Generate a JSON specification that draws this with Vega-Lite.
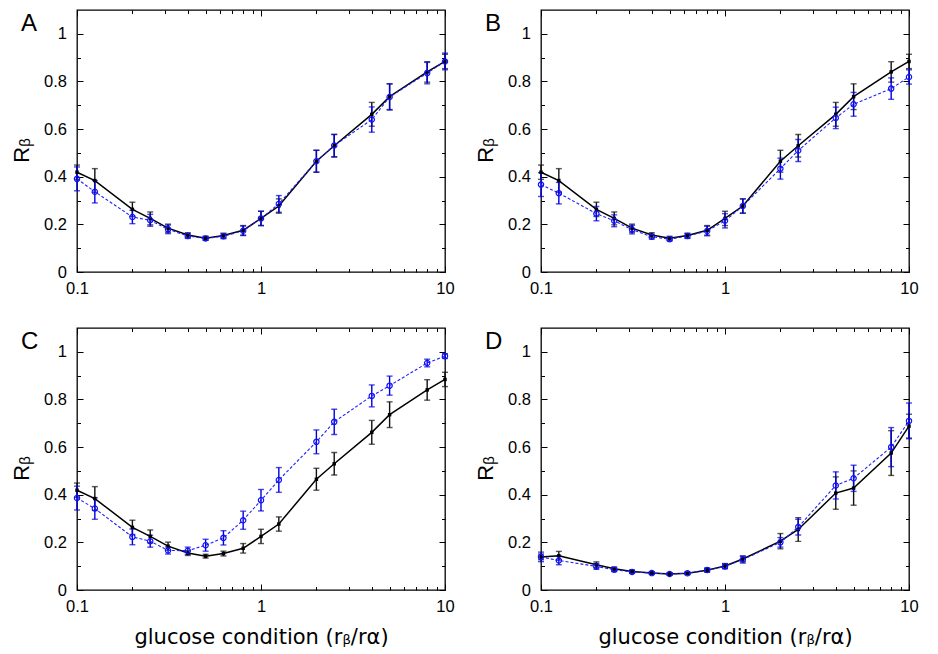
{
  "$schema": "https://vega.github.io/schema/vega-lite/v6.json",
  "padding": {"left": 9, "top": 8, "right": 5, "bottom": 5},
  "datasets": {
    "pts": [
      {"panel":"A","s":"ref","x":0.1,"y":0.419,"e":0.03},{"panel":"A","s":"ref","x":0.125,"y":0.384,"e":0.05},{"panel":"A","s":"ref","x":0.2,"y":0.263,"e":0.03},{"panel":"A","s":"ref","x":0.25,"y":0.225,"e":0.027},{"panel":"A","s":"ref","x":0.3125,"y":0.184,"e":0.017},{"panel":"A","s":"ref","x":0.4,"y":0.155,"e":0.01},{"panel":"A","s":"ref","x":0.5,"y":0.142,"e":0.008},{"panel":"A","s":"ref","x":0.625,"y":0.153,"e":0.01},{"panel":"A","s":"ref","x":0.8,"y":0.175,"e":0.02},{"panel":"A","s":"ref","x":1,"y":0.225,"e":0.03},{"panel":"A","s":"ref","x":1.25,"y":0.277,"e":0.03},{"panel":"A","s":"ref","x":2,"y":0.465,"e":0.046},{"panel":"A","s":"ref","x":2.5,"y":0.53,"e":0.047},{"panel":"A","s":"ref","x":4,"y":0.662,"e":0.05},{"panel":"A","s":"ref","x":5,"y":0.736,"e":0.054},{"panel":"A","s":"ref","x":8,"y":0.84,"e":0.043},{"panel":"A","s":"ref","x":10,"y":0.884,"e":0.03},
      {"panel":"A","s":"alt","x":0.1,"y":0.391,"e":0.05},{"panel":"A","s":"alt","x":0.125,"y":0.337,"e":0.047},{"panel":"A","s":"alt","x":0.2,"y":0.231,"e":0.028},{"panel":"A","s":"alt","x":0.25,"y":0.217,"e":0.025},{"panel":"A","s":"alt","x":0.3125,"y":0.179,"e":0.018},{"panel":"A","s":"alt","x":0.4,"y":0.151,"e":0.01},{"panel":"A","s":"alt","x":0.5,"y":0.141,"e":0.008},{"panel":"A","s":"alt","x":0.625,"y":0.15,"e":0.01},{"panel":"A","s":"alt","x":0.8,"y":0.173,"e":0.02},{"panel":"A","s":"alt","x":1,"y":0.225,"e":0.03},{"panel":"A","s":"alt","x":1.25,"y":0.286,"e":0.035},{"panel":"A","s":"alt","x":2,"y":0.465,"e":0.046},{"panel":"A","s":"alt","x":2.5,"y":0.531,"e":0.047},{"panel":"A","s":"alt","x":4,"y":0.64,"e":0.053},{"panel":"A","s":"alt","x":5,"y":0.735,"e":0.055},{"panel":"A","s":"alt","x":8,"y":0.835,"e":0.045},{"panel":"A","s":"alt","x":10,"y":0.884,"e":0.035},
      {"panel":"B","s":"ref","x":0.1,"y":0.419,"e":0.03},{"panel":"B","s":"ref","x":0.125,"y":0.384,"e":0.05},{"panel":"B","s":"ref","x":0.2,"y":0.263,"e":0.03},{"panel":"B","s":"ref","x":0.25,"y":0.225,"e":0.027},{"panel":"B","s":"ref","x":0.3125,"y":0.184,"e":0.017},{"panel":"B","s":"ref","x":0.4,"y":0.155,"e":0.01},{"panel":"B","s":"ref","x":0.5,"y":0.142,"e":0.008},{"panel":"B","s":"ref","x":0.625,"y":0.153,"e":0.01},{"panel":"B","s":"ref","x":0.8,"y":0.175,"e":0.02},{"panel":"B","s":"ref","x":1,"y":0.225,"e":0.03},{"panel":"B","s":"ref","x":1.25,"y":0.277,"e":0.03},{"panel":"B","s":"ref","x":2,"y":0.465,"e":0.046},{"panel":"B","s":"ref","x":2.5,"y":0.53,"e":0.047},{"panel":"B","s":"ref","x":4,"y":0.662,"e":0.05},{"panel":"B","s":"ref","x":5,"y":0.736,"e":0.054},{"panel":"B","s":"ref","x":8,"y":0.84,"e":0.043},{"panel":"B","s":"ref","x":10,"y":0.884,"e":0.03},
      {"panel":"B","s":"alt","x":0.1,"y":0.367,"e":0.05},{"panel":"B","s":"alt","x":0.125,"y":0.331,"e":0.045},{"panel":"B","s":"alt","x":0.2,"y":0.245,"e":0.03},{"panel":"B","s":"alt","x":0.25,"y":0.215,"e":0.025},{"panel":"B","s":"alt","x":0.3125,"y":0.178,"e":0.018},{"panel":"B","s":"alt","x":0.4,"y":0.148,"e":0.01},{"panel":"B","s":"alt","x":0.5,"y":0.138,"e":0.008},{"panel":"B","s":"alt","x":0.625,"y":0.151,"e":0.01},{"panel":"B","s":"alt","x":0.8,"y":0.172,"e":0.02},{"panel":"B","s":"alt","x":1,"y":0.215,"e":0.03},{"panel":"B","s":"alt","x":1.25,"y":0.277,"e":0.03},{"panel":"B","s":"alt","x":2,"y":0.434,"e":0.044},{"panel":"B","s":"alt","x":2.5,"y":0.51,"e":0.046},{"panel":"B","s":"alt","x":4,"y":0.647,"e":0.045},{"panel":"B","s":"alt","x":5,"y":0.704,"e":0.05},{"panel":"B","s":"alt","x":8,"y":0.77,"e":0.045},{"panel":"B","s":"alt","x":10,"y":0.819,"e":0.03},
      {"panel":"C","s":"ref","x":0.1,"y":0.419,"e":0.03},{"panel":"C","s":"ref","x":0.125,"y":0.384,"e":0.05},{"panel":"C","s":"ref","x":0.2,"y":0.263,"e":0.03},{"panel":"C","s":"ref","x":0.25,"y":0.225,"e":0.027},{"panel":"C","s":"ref","x":0.3125,"y":0.184,"e":0.017},{"panel":"C","s":"ref","x":0.4,"y":0.155,"e":0.01},{"panel":"C","s":"ref","x":0.5,"y":0.142,"e":0.008},{"panel":"C","s":"ref","x":0.625,"y":0.153,"e":0.01},{"panel":"C","s":"ref","x":0.8,"y":0.175,"e":0.02},{"panel":"C","s":"ref","x":1,"y":0.225,"e":0.03},{"panel":"C","s":"ref","x":1.25,"y":0.277,"e":0.03},{"panel":"C","s":"ref","x":2,"y":0.465,"e":0.046},{"panel":"C","s":"ref","x":2.5,"y":0.53,"e":0.047},{"panel":"C","s":"ref","x":4,"y":0.662,"e":0.05},{"panel":"C","s":"ref","x":5,"y":0.736,"e":0.054},{"panel":"C","s":"ref","x":8,"y":0.84,"e":0.043},{"panel":"C","s":"ref","x":10,"y":0.884,"e":0.03},
      {"panel":"C","s":"alt","x":0.1,"y":0.386,"e":0.05},{"panel":"C","s":"alt","x":0.125,"y":0.342,"e":0.045},{"panel":"C","s":"alt","x":0.2,"y":0.223,"e":0.033},{"panel":"C","s":"alt","x":0.25,"y":0.205,"e":0.025},{"panel":"C","s":"alt","x":0.3125,"y":0.166,"e":0.015},{"panel":"C","s":"alt","x":0.4,"y":0.165,"e":0.015},{"panel":"C","s":"alt","x":0.5,"y":0.188,"e":0.025},{"panel":"C","s":"alt","x":0.625,"y":0.219,"e":0.03},{"panel":"C","s":"alt","x":0.8,"y":0.293,"e":0.038},{"panel":"C","s":"alt","x":1,"y":0.377,"e":0.045},{"panel":"C","s":"alt","x":1.25,"y":0.462,"e":0.052},{"panel":"C","s":"alt","x":2,"y":0.622,"e":0.05},{"panel":"C","s":"alt","x":2.5,"y":0.706,"e":0.053},{"panel":"C","s":"alt","x":4,"y":0.815,"e":0.046},{"panel":"C","s":"alt","x":5,"y":0.858,"e":0.04},{"panel":"C","s":"alt","x":8,"y":0.953,"e":0.016},{"panel":"C","s":"alt","x":10,"y":0.982,"e":0.01},
      {"panel":"D","s":"ref","x":0.1,"y":0.139,"e":0.012},{"panel":"D","s":"ref","x":0.125,"y":0.144,"e":0.018},{"panel":"D","s":"ref","x":0.2,"y":0.106,"e":0.012},{"panel":"D","s":"ref","x":0.25,"y":0.089,"e":0.008},{"panel":"D","s":"ref","x":0.3125,"y":0.078,"e":0.006},{"panel":"D","s":"ref","x":0.4,"y":0.071,"e":0.005},{"panel":"D","s":"ref","x":0.5,"y":0.067,"e":0.005},{"panel":"D","s":"ref","x":0.625,"y":0.07,"e":0.005},{"panel":"D","s":"ref","x":0.8,"y":0.083,"e":0.008},{"panel":"D","s":"ref","x":1,"y":0.101,"e":0.01},{"panel":"D","s":"ref","x":1.25,"y":0.13,"e":0.012},{"panel":"D","s":"ref","x":2,"y":0.205,"e":0.032},{"panel":"D","s":"ref","x":2.5,"y":0.254,"e":0.05},{"panel":"D","s":"ref","x":4,"y":0.407,"e":0.068},{"panel":"D","s":"ref","x":5,"y":0.428,"e":0.072},{"panel":"D","s":"ref","x":8,"y":0.575,"e":0.094},{"panel":"D","s":"ref","x":10,"y":0.688,"e":0.05},
      {"panel":"D","s":"alt","x":0.1,"y":0.139,"e":0.02},{"panel":"D","s":"alt","x":0.125,"y":0.124,"e":0.018},{"panel":"D","s":"alt","x":0.2,"y":0.099,"e":0.012},{"panel":"D","s":"alt","x":0.25,"y":0.085,"e":0.008},{"panel":"D","s":"alt","x":0.3125,"y":0.076,"e":0.006},{"panel":"D","s":"alt","x":0.4,"y":0.071,"e":0.005},{"panel":"D","s":"alt","x":0.5,"y":0.067,"e":0.005},{"panel":"D","s":"alt","x":0.625,"y":0.07,"e":0.005},{"panel":"D","s":"alt","x":0.8,"y":0.084,"e":0.008},{"panel":"D","s":"alt","x":1,"y":0.099,"e":0.01},{"panel":"D","s":"alt","x":1.25,"y":0.128,"e":0.015},{"panel":"D","s":"alt","x":2,"y":0.2,"e":0.02},{"panel":"D","s":"alt","x":2.5,"y":0.264,"e":0.033},{"panel":"D","s":"alt","x":4,"y":0.439,"e":0.057},{"panel":"D","s":"alt","x":5,"y":0.469,"e":0.055},{"panel":"D","s":"alt","x":8,"y":0.6,"e":0.082},{"panel":"D","s":"alt","x":10,"y":0.71,"e":0.075}
    ]
  },
  "data": {"name": "pts"},
  "columns": 2,
  "bounds": "flush",
  "spacing": {"row": 56, "column": 96},
  "concat": [
    {
      "width": 368, "height": 262,
      "title": {"text": "A"},
      "transform": [{"filter": "datum.panel === 'A'"}],
      "layer": [
        {"transform": [{"filter": "datum.s === 'ref'"}],
         "mark": {"type": "errorbar", "ticks": {"size": 6}, "color": "#111111", "thickness": 1.4},
         "encoding": {
           "x": {"field": "x", "type": "quantitative", "scale": {"type": "log", "domain": [0.1, 10]}, "axis": {"orient": "bottom", "values": [0.1, 1, 10], "format": "~g", "tickSize": -6, "title": null}},
           "y": {"field": "y", "type": "quantitative", "scale": {"domain": [0, 1.1]}, "axis": {"orient": "left", "values": [0, 0.2, 0.4, 0.6, 0.8, 1], "format": "~g", "tickSize": -6, "title": "Rᵦ", "titleFont": "Liberation Sans", "titleFontSize": 22, "titlePadding": 10, "titleY": 140}},
           "yError": {"field": "e"}}},
        {"transform": [{"filter": "datum.s === 'alt'"}],
         "mark": {"type": "errorbar", "ticks": {"size": 6}, "color": "#0000dd", "thickness": 1.4},
         "encoding": {
           "x": {"field": "x", "type": "quantitative", "scale": {"type": "log", "domain": [0.1, 10]}, "axis": {"orient": "bottom", "values": [0.2, 0.3, 0.4, 0.5, 0.6, 0.7, 0.8, 0.9, 2, 3, 4, 5, 6, 7, 8, 9], "labels": false, "tickSize": -3.5, "title": null}},
           "y": {"field": "y", "type": "quantitative", "scale": {"domain": [0, 1.1]}, "axis": {"orient": "left", "values": [0.1, 0.3, 0.5, 0.7, 0.9], "labels": false, "tickSize": -3.5, "title": null}},
           "yError": {"field": "e"}}},
        {"transform": [{"filter": "datum.s === 'ref'"}],
         "mark": {"type": "line", "color": "black", "strokeWidth": 1.5},
         "encoding": {
           "x": {"field": "x", "type": "quantitative", "scale": {"type": "log", "domain": [0.1, 10]}, "axis": {"orient": "top", "values": [0.1, 1, 10], "labels": false, "tickSize": -6, "title": null}},
           "y": {"field": "y", "type": "quantitative", "scale": {"domain": [0, 1.1]}, "axis": {"orient": "right", "values": [0, 0.2, 0.4, 0.6, 0.8, 1], "labels": false, "tickSize": -6, "title": null}}}},
        {"transform": [{"filter": "datum.s === 'alt'"}],
         "mark": {"type": "line", "color": "#2020ff", "strokeWidth": 1.1, "strokeDash": [3, 2]},
         "encoding": {
           "x": {"field": "x", "type": "quantitative", "scale": {"type": "log", "domain": [0.1, 10]}, "axis": {"orient": "top", "values": [0.2, 0.3, 0.4, 0.5, 0.6, 0.7, 0.8, 0.9, 2, 3, 4, 5, 6, 7, 8, 9], "labels": false, "tickSize": -3.5, "title": null}},
           "y": {"field": "y", "type": "quantitative", "scale": {"domain": [0, 1.1]}, "axis": {"orient": "right", "values": [0.1, 0.3, 0.5, 0.7, 0.9], "labels": false, "tickSize": -3.5, "title": null}}}},
        {"transform": [{"filter": "datum.s === 'ref'"}],
         "mark": {"type": "square", "filled": true, "color": "black", "size": 12, "opacity": 1},
         "encoding": {
           "x": {"field": "x", "type": "quantitative", "scale": {"type": "log", "domain": [0.1, 10]}, "axis": null},
           "y": {"field": "y", "type": "quantitative", "scale": {"domain": [0, 1.1]}, "axis": null}}},
        {"transform": [{"filter": "datum.s === 'alt'"}],
         "mark": {"type": "point", "shape": "circle", "filled": false, "color": "#1010ff", "size": 28, "strokeWidth": 1.2, "opacity": 1},
         "encoding": {
           "x": {"field": "x", "type": "quantitative", "scale": {"type": "log", "domain": [0.1, 10]}, "axis": null},
           "y": {"field": "y", "type": "quantitative", "scale": {"domain": [0, 1.1]}, "axis": null}}}
      ],
      "resolve": {"axis": {"x": "independent", "y": "independent"}}
    },
    {
      "width": 368, "height": 262,
      "title": {"text": "B"},
      "transform": [{"filter": "datum.panel === 'B'"}],
      "layer": [
        {"transform": [{"filter": "datum.s === 'ref'"}],
         "mark": {"type": "errorbar", "ticks": {"size": 6}, "color": "#111111", "thickness": 1.4},
         "encoding": {
           "x": {"field": "x", "type": "quantitative", "scale": {"type": "log", "domain": [0.1, 10]}, "axis": {"orient": "bottom", "values": [0.1, 1, 10], "format": "~g", "tickSize": -6, "title": null}},
           "y": {"field": "y", "type": "quantitative", "scale": {"domain": [0, 1.1]}, "axis": {"orient": "left", "values": [0, 0.2, 0.4, 0.6, 0.8, 1], "format": "~g", "tickSize": -6, "title": "Rᵦ", "titleFont": "Liberation Sans", "titleFontSize": 22, "titlePadding": 10, "titleY": 140}},
           "yError": {"field": "e"}}},
        {"transform": [{"filter": "datum.s === 'alt'"}],
         "mark": {"type": "errorbar", "ticks": {"size": 6}, "color": "#0000dd", "thickness": 1.4},
         "encoding": {
           "x": {"field": "x", "type": "quantitative", "scale": {"type": "log", "domain": [0.1, 10]}, "axis": {"orient": "bottom", "values": [0.2, 0.3, 0.4, 0.5, 0.6, 0.7, 0.8, 0.9, 2, 3, 4, 5, 6, 7, 8, 9], "labels": false, "tickSize": -3.5, "title": null}},
           "y": {"field": "y", "type": "quantitative", "scale": {"domain": [0, 1.1]}, "axis": {"orient": "left", "values": [0.1, 0.3, 0.5, 0.7, 0.9], "labels": false, "tickSize": -3.5, "title": null}},
           "yError": {"field": "e"}}},
        {"transform": [{"filter": "datum.s === 'ref'"}],
         "mark": {"type": "line", "color": "black", "strokeWidth": 1.5},
         "encoding": {
           "x": {"field": "x", "type": "quantitative", "scale": {"type": "log", "domain": [0.1, 10]}, "axis": {"orient": "top", "values": [0.1, 1, 10], "labels": false, "tickSize": -6, "title": null}},
           "y": {"field": "y", "type": "quantitative", "scale": {"domain": [0, 1.1]}, "axis": {"orient": "right", "values": [0, 0.2, 0.4, 0.6, 0.8, 1], "labels": false, "tickSize": -6, "title": null}}}},
        {"transform": [{"filter": "datum.s === 'alt'"}],
         "mark": {"type": "line", "color": "#2020ff", "strokeWidth": 1.1, "strokeDash": [3, 2]},
         "encoding": {
           "x": {"field": "x", "type": "quantitative", "scale": {"type": "log", "domain": [0.1, 10]}, "axis": {"orient": "top", "values": [0.2, 0.3, 0.4, 0.5, 0.6, 0.7, 0.8, 0.9, 2, 3, 4, 5, 6, 7, 8, 9], "labels": false, "tickSize": -3.5, "title": null}},
           "y": {"field": "y", "type": "quantitative", "scale": {"domain": [0, 1.1]}, "axis": {"orient": "right", "values": [0.1, 0.3, 0.5, 0.7, 0.9], "labels": false, "tickSize": -3.5, "title": null}}}},
        {"transform": [{"filter": "datum.s === 'ref'"}],
         "mark": {"type": "square", "filled": true, "color": "black", "size": 12, "opacity": 1},
         "encoding": {
           "x": {"field": "x", "type": "quantitative", "scale": {"type": "log", "domain": [0.1, 10]}, "axis": null},
           "y": {"field": "y", "type": "quantitative", "scale": {"domain": [0, 1.1]}, "axis": null}}},
        {"transform": [{"filter": "datum.s === 'alt'"}],
         "mark": {"type": "point", "shape": "circle", "filled": false, "color": "#1010ff", "size": 28, "strokeWidth": 1.2, "opacity": 1},
         "encoding": {
           "x": {"field": "x", "type": "quantitative", "scale": {"type": "log", "domain": [0.1, 10]}, "axis": null},
           "y": {"field": "y", "type": "quantitative", "scale": {"domain": [0, 1.1]}, "axis": null}}}
      ],
      "resolve": {"axis": {"x": "independent", "y": "independent"}}
    },
    {
      "width": 368, "height": 262,
      "title": {"text": "C"},
      "transform": [{"filter": "datum.panel === 'C'"}],
      "layer": [
        {"transform": [{"filter": "datum.s === 'ref'"}],
         "mark": {"type": "errorbar", "ticks": {"size": 6}, "color": "#111111", "thickness": 1.4},
         "encoding": {
           "x": {"field": "x", "type": "quantitative", "scale": {"type": "log", "domain": [0.1, 10]}, "axis": {"orient": "bottom", "values": [0.1, 1, 10], "format": "~g", "tickSize": -6, "title": "glucose condition (rᵦ/rα)", "titleFont": "DejaVu Sans", "titleFontSize": 21, "titlePadding": 12}},
           "y": {"field": "y", "type": "quantitative", "scale": {"domain": [0, 1.1]}, "axis": {"orient": "left", "values": [0, 0.2, 0.4, 0.6, 0.8, 1], "format": "~g", "tickSize": -6, "title": "Rᵦ", "titleFont": "Liberation Sans", "titleFontSize": 22, "titlePadding": 10, "titleY": 140}},
           "yError": {"field": "e"}}},
        {"transform": [{"filter": "datum.s === 'alt'"}],
         "mark": {"type": "errorbar", "ticks": {"size": 6}, "color": "#0000dd", "thickness": 1.4},
         "encoding": {
           "x": {"field": "x", "type": "quantitative", "scale": {"type": "log", "domain": [0.1, 10]}, "axis": {"orient": "bottom", "values": [0.2, 0.3, 0.4, 0.5, 0.6, 0.7, 0.8, 0.9, 2, 3, 4, 5, 6, 7, 8, 9], "labels": false, "tickSize": -3.5, "title": null}},
           "y": {"field": "y", "type": "quantitative", "scale": {"domain": [0, 1.1]}, "axis": {"orient": "left", "values": [0.1, 0.3, 0.5, 0.7, 0.9], "labels": false, "tickSize": -3.5, "title": null}},
           "yError": {"field": "e"}}},
        {"transform": [{"filter": "datum.s === 'ref'"}],
         "mark": {"type": "line", "color": "black", "strokeWidth": 1.5},
         "encoding": {
           "x": {"field": "x", "type": "quantitative", "scale": {"type": "log", "domain": [0.1, 10]}, "axis": {"orient": "top", "values": [0.1, 1, 10], "labels": false, "tickSize": -6, "title": null}},
           "y": {"field": "y", "type": "quantitative", "scale": {"domain": [0, 1.1]}, "axis": {"orient": "right", "values": [0, 0.2, 0.4, 0.6, 0.8, 1], "labels": false, "tickSize": -6, "title": null}}}},
        {"transform": [{"filter": "datum.s === 'alt'"}],
         "mark": {"type": "line", "color": "#2020ff", "strokeWidth": 1.1, "strokeDash": [3, 2]},
         "encoding": {
           "x": {"field": "x", "type": "quantitative", "scale": {"type": "log", "domain": [0.1, 10]}, "axis": {"orient": "top", "values": [0.2, 0.3, 0.4, 0.5, 0.6, 0.7, 0.8, 0.9, 2, 3, 4, 5, 6, 7, 8, 9], "labels": false, "tickSize": -3.5, "title": null}},
           "y": {"field": "y", "type": "quantitative", "scale": {"domain": [0, 1.1]}, "axis": {"orient": "right", "values": [0.1, 0.3, 0.5, 0.7, 0.9], "labels": false, "tickSize": -3.5, "title": null}}}},
        {"transform": [{"filter": "datum.s === 'ref'"}],
         "mark": {"type": "square", "filled": true, "color": "black", "size": 12, "opacity": 1},
         "encoding": {
           "x": {"field": "x", "type": "quantitative", "scale": {"type": "log", "domain": [0.1, 10]}, "axis": null},
           "y": {"field": "y", "type": "quantitative", "scale": {"domain": [0, 1.1]}, "axis": null}}},
        {"transform": [{"filter": "datum.s === 'alt'"}],
         "mark": {"type": "point", "shape": "circle", "filled": false, "color": "#1010ff", "size": 28, "strokeWidth": 1.2, "opacity": 1},
         "encoding": {
           "x": {"field": "x", "type": "quantitative", "scale": {"type": "log", "domain": [0.1, 10]}, "axis": null},
           "y": {"field": "y", "type": "quantitative", "scale": {"domain": [0, 1.1]}, "axis": null}}}
      ],
      "resolve": {"axis": {"x": "independent", "y": "independent"}}
    },
    {
      "width": 368, "height": 262,
      "title": {"text": "D"},
      "transform": [{"filter": "datum.panel === 'D'"}],
      "layer": [
        {"transform": [{"filter": "datum.s === 'ref'"}],
         "mark": {"type": "errorbar", "ticks": {"size": 6}, "color": "#111111", "thickness": 1.4},
         "encoding": {
           "x": {"field": "x", "type": "quantitative", "scale": {"type": "log", "domain": [0.1, 10]}, "axis": {"orient": "bottom", "values": [0.1, 1, 10], "format": "~g", "tickSize": -6, "title": "glucose condition (rᵦ/rα)", "titleFont": "DejaVu Sans", "titleFontSize": 21, "titlePadding": 12}},
           "y": {"field": "y", "type": "quantitative", "scale": {"domain": [0, 1.1]}, "axis": {"orient": "left", "values": [0, 0.2, 0.4, 0.6, 0.8, 1], "format": "~g", "tickSize": -6, "title": "Rᵦ", "titleFont": "Liberation Sans", "titleFontSize": 22, "titlePadding": 10, "titleY": 140}},
           "yError": {"field": "e"}}},
        {"transform": [{"filter": "datum.s === 'alt'"}],
         "mark": {"type": "errorbar", "ticks": {"size": 6}, "color": "#0000dd", "thickness": 1.4},
         "encoding": {
           "x": {"field": "x", "type": "quantitative", "scale": {"type": "log", "domain": [0.1, 10]}, "axis": {"orient": "bottom", "values": [0.2, 0.3, 0.4, 0.5, 0.6, 0.7, 0.8, 0.9, 2, 3, 4, 5, 6, 7, 8, 9], "labels": false, "tickSize": -3.5, "title": null}},
           "y": {"field": "y", "type": "quantitative", "scale": {"domain": [0, 1.1]}, "axis": {"orient": "left", "values": [0.1, 0.3, 0.5, 0.7, 0.9], "labels": false, "tickSize": -3.5, "title": null}},
           "yError": {"field": "e"}}},
        {"transform": [{"filter": "datum.s === 'ref'"}],
         "mark": {"type": "line", "color": "black", "strokeWidth": 1.5},
         "encoding": {
           "x": {"field": "x", "type": "quantitative", "scale": {"type": "log", "domain": [0.1, 10]}, "axis": {"orient": "top", "values": [0.1, 1, 10], "labels": false, "tickSize": -6, "title": null}},
           "y": {"field": "y", "type": "quantitative", "scale": {"domain": [0, 1.1]}, "axis": {"orient": "right", "values": [0, 0.2, 0.4, 0.6, 0.8, 1], "labels": false, "tickSize": -6, "title": null}}}},
        {"transform": [{"filter": "datum.s === 'alt'"}],
         "mark": {"type": "line", "color": "#2020ff", "strokeWidth": 1.1, "strokeDash": [3, 2]},
         "encoding": {
           "x": {"field": "x", "type": "quantitative", "scale": {"type": "log", "domain": [0.1, 10]}, "axis": {"orient": "top", "values": [0.2, 0.3, 0.4, 0.5, 0.6, 0.7, 0.8, 0.9, 2, 3, 4, 5, 6, 7, 8, 9], "labels": false, "tickSize": -3.5, "title": null}},
           "y": {"field": "y", "type": "quantitative", "scale": {"domain": [0, 1.1]}, "axis": {"orient": "right", "values": [0.1, 0.3, 0.5, 0.7, 0.9], "labels": false, "tickSize": -3.5, "title": null}}}},
        {"transform": [{"filter": "datum.s === 'ref'"}],
         "mark": {"type": "square", "filled": true, "color": "black", "size": 12, "opacity": 1},
         "encoding": {
           "x": {"field": "x", "type": "quantitative", "scale": {"type": "log", "domain": [0.1, 10]}, "axis": null},
           "y": {"field": "y", "type": "quantitative", "scale": {"domain": [0, 1.1]}, "axis": null}}},
        {"transform": [{"filter": "datum.s === 'alt'"}],
         "mark": {"type": "point", "shape": "circle", "filled": false, "color": "#1010ff", "size": 28, "strokeWidth": 1.2, "opacity": 1},
         "encoding": {
           "x": {"field": "x", "type": "quantitative", "scale": {"type": "log", "domain": [0.1, 10]}, "axis": null},
           "y": {"field": "y", "type": "quantitative", "scale": {"domain": [0, 1.1]}, "axis": null}}}
      ],
      "resolve": {"axis": {"x": "independent", "y": "independent"}}
    }
  ],
  "config": {
    "background": "white",
    "view": {"stroke": "black", "strokeWidth": 1.3},
    "axis": {"grid": false, "domain": false, "labelFlush": false, "tickColor": "black", "tickWidth": 1, "labelColor": "black", "labelFont": "Liberation Sans", "labelFontSize": 16.5, "titleColor": "black", "titleFontWeight": "normal"},
    "axisX": {"labelPadding": 14},
    "axisY": {"labelPadding": 16.5},
    "title": {"anchor": "start", "frame": "group", "font": "Liberation Sans", "fontSize": 24, "fontWeight": "normal", "color": "black", "offset": 0, "dx": -56, "dy": 30, "baseline": "alphabetic"}
  }
}
